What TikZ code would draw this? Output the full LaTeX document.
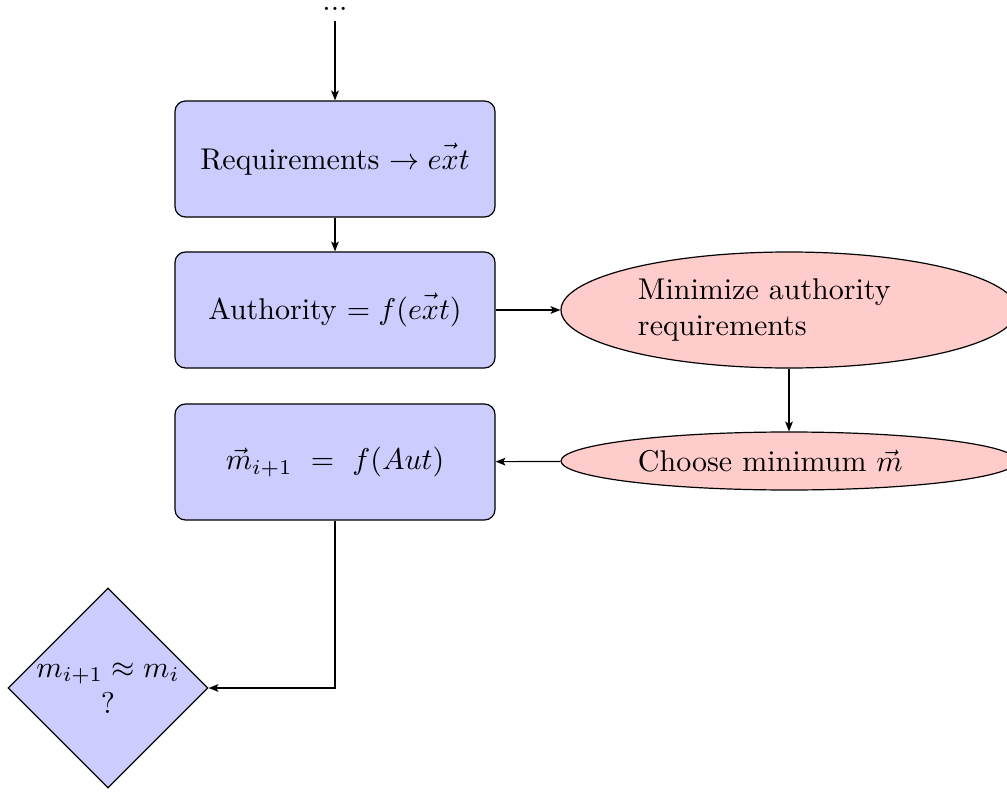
\documentclass[tikz,border=0pt]{standalone}
\usetikzlibrary{shapes.geometric,arrows.meta}
\begin{document}
\begin{tikzpicture}[x=0.33333pt,y=-0.33333pt,
  block/.style={draw, fill=blue!20, rectangle, rounded corners=3.5pt,
    minimum width=106.67pt, minimum height=38.67pt, inner sep=0pt, align=center},
  cloud/.style={draw, fill=red!20, ellipse, minimum width=152pt,
    inner sep=0pt, text width=100.67pt, align=left},
  decision/.style={draw, fill=blue!20, diamond, aspect=1,
    minimum width=66.67pt, minimum height=66.67pt, inner sep=0pt, align=center},
  line/.style={draw, -{Stealth[length=3.3pt,width=2.6pt,inset=0.8pt]}}]
  \useasboundingbox (0,0) rectangle (1007,792);

  % entry marker
  \node[anchor=base, inner sep=3.33pt] (dots) at (335,10) {...};

  % main chain
  \node[block] (req) at (335,159) {Requirements $\rightarrow \vec{ext}$};
  \node[block] (auth) at (335,310) {Authority $= f(\vec{ext})$};
  \node[block] (upd) at (335,462) {$\vec{m}_{i+1}\ =\ f(Aut)$};
  \node[decision] (conv) at (108,688) {$m_{i+1} \approx m_i$\\?};

  % side branch
  \node[cloud, minimum height=38.67pt] (mini) at (789,310) {Minimize authority\\requirements};
  \node[cloud, minimum height=19.33pt] (choose) at (789,461) {Choose minimum $\vec{m}$};

  % connectors
  \path[line] (dots.south) -- (req);
  \path[line] (req) -- (auth);
  \path[line] (auth) -- (mini);
  \path[line] (mini) -- (choose);
  \path[line] (choose) -- (upd);
  \path[line] (upd.south) |- (conv.east);
\end{tikzpicture}
\end{document}
